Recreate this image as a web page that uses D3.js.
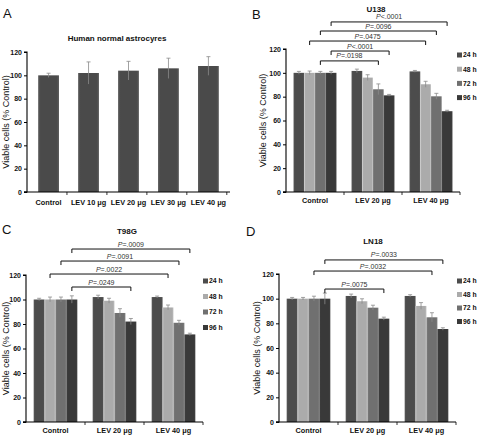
<!DOCTYPE html>
<html><head><meta charset="utf-8">
<script src="https://cdn.jsdelivr.net/npm/d3@7"></script>
<style>body{margin:0;background:#fff} svg text{font-family:"Liberation Sans",Arial,sans-serif;fill:#111}</style>
</head><body><svg id="c" width="478" height="437"></svg>
<script>
// ---------- DATA ----------
const seriesLabels = ["24 h", "48 h", "72 h", "96 h"];
const yTicks = [0, 20, 40, 60, 80, 100, 120];
const yLabel = "Viable cells (% Control)";

const astroTitle = "Human normal astrocyres";
const astroCategories = ["Control", "LEV 10 μg", "LEV 20 μg", "LEV 30 μg", "LEV 40 μg"];
const astroValues = [100, 102, 104, 106, 108];
const astroErrors = [1.8, 9.5, 8, 8.7, 8];

const groupCategories = ["Control", "LEV 20 μg", "LEV 40 μg"];

// values[series][group]
const u138Values = [[100, 101.6, 101.2], [100, 96, 90.4], [100, 86.2, 80.3], [100, 81.1, 67.8]];
const u138Errors = [[1.2, 1.5, 0.8], [1.5, 2.4, 2.5], [1.2, 4.5, 2.5], [1.2, 0.8, 0.8]];
// [label, fromGroup, fromSeries, toGroup, toSeries, y value]
const u138Brackets = [
  ["<.0001", 0, 3, 2, 3, 142.7],
  ["=.0096", 0, 2, 2, 2, 135.1],
  ["=.0475", 0, 1, 2, 1, 126.7],
  ["<.0001", 0, 3, 1, 3, 118.3],
  ["=.0198", 0, 2, 1, 2, 110]
];

const t98gValues = [[100, 102, 102], [100, 99, 93.5], [100, 89, 81], [100, 82, 71.5]];
const t98gErrors = [[1, 1.5, 0.8], [2, 2, 2], [2, 3.5, 2], [3, 2.5, 1]];
const t98gBrackets = [
  ["=.0009", 0, 3, 2, 3, 141.2],
  ["=.0091", 0, 2, 2, 2, 131.4],
  ["=.0022", 0, 1, 2, 1, 120.8],
  ["=.0249", 0, 3, 1, 3, 110.2]
];

const ln18Values = [[100, 102.2, 102.2], [100, 97.9, 94.1], [100, 92.7, 84.9], [100, 83.8, 75.4]];
const ln18Errors = [[1, 1.5, 1], [1, 2, 2.7], [2, 2, 3.7], [4.5, 1.2, 1]];
const ln18Brackets = [
  ["=.0033", 0, 3, 2, 3, 131.4],
  ["=.0032", 0, 2, 2, 2, 122.4],
  ["=.0075", 0, 3, 1, 3, 107.8]
];

// ---------- STYLE ----------
const seriesColors = ["#4c4c4c", "#ababab", "#707070", "#393939"];
const singleColor = "#4a4a4a";
const errColor = "#8a8a8a";

const svg = d3.select("#c");
const defs = svg.append("defs");
function gradId(col) {
  const id = "g" + col.slice(1);
  if (!defs.select("#" + id).empty()) return "url(#" + id + ")";
  const c = d3.color(col);
  const g = defs.append("linearGradient").attr("id", id).attr("x1", 0).attr("x2", 1).attr("y1", 0).attr("y2", 0);
  g.append("stop").attr("offset", "0%").attr("stop-color", c.brighter(0.5));
  g.append("stop").attr("offset", "12%").attr("stop-color", col);
  g.append("stop").attr("offset", "88%").attr("stop-color", col);
  g.append("stop").attr("offset", "100%").attr("stop-color", c.brighter(0.5));
  return "url(#" + id + ")";
}

function drawAxes(g, x, y, opts) {
  const ya = g.append("g").attr("transform", `translate(${x.range()[0]},0)`)
    .call(d3.axisLeft(y).tickValues(yTicks).tickSize(3).tickPadding(2));
  ya.select(".domain").attr("stroke", "#000").attr("stroke-width", 1.1).attr("d", `M-3,${y(0)}H0V${y(120)}H-3`);
  ya.selectAll("text").style("font-size", "7px").style("font-weight", "bold");
  const [r0, r1] = x.range();
  g.append("line").attr("x1", r0 - 3).attr("x2", r1).attr("y1", y(0)).attr("y2", y(0))
    .attr("stroke", "#000").attr("stroke-width", 1.1);
  const step = x.step();
  x.domain().forEach((d, i) => {
    const bx = r0 + step * (i + 1);
    g.append("line").attr("x1", bx).attr("x2", bx).attr("y1", y(0)).attr("y2", y(0) + 3)
      .attr("stroke", "#000").attr("stroke-width", 0.8);
  });
  g.append("g").selectAll("text").data(x.domain()).join("text")
    .attr("x", d => x(d) + x.bandwidth() / 2).attr("y", y(0) + opts.xLabelDy)
    .attr("text-anchor", "middle").style("font-size", "7.3px").style("font-weight", "bold")
    .text(d => d);
  g.append("text").attr("transform", `translate(${opts.yLabelX},${(y(0) + y(120)) / 2}) rotate(-90)`)
    .attr("text-anchor", "middle").attr("dy", "0.35em").style("font-size", "9px").text(yLabel);
}

function errorBar(g, cx, yTop, yBot) {
  g.append("line").attr("x1", cx).attr("x2", cx).attr("y1", yTop).attr("y2", yBot)
    .attr("stroke", errColor).attr("stroke-width", 0.8);
  g.append("line").attr("x1", cx - 2).attr("x2", cx + 2).attr("y1", yTop).attr("y2", yTop)
    .attr("stroke", errColor).attr("stroke-width", 0.8);
}

// ---------- Panel A ----------
(function () {
  const g = svg.append("g");
  const x = d3.scaleBand().domain(astroCategories).range([27, 230]).paddingInner(0.48).paddingOuter(0.28);
  const y = d3.scaleLinear().domain([0, 120]).range([192, 52]);
  g.append("text").attr("x", 3).attr("y", 18).style("font-size", "13px").text("A");
  g.append("text").attr("x", 117).attr("y", 41).attr("text-anchor", "middle")
    .style("font-size", "8px").style("font-weight", "bold").text(astroTitle);
  g.selectAll("rect.bar").data(astroValues).join("rect")
    .attr("x", (d, i) => x(astroCategories[i])).attr("width", x.bandwidth())
    .attr("y", d => y(d)).attr("height", d => y(0) - y(d)).attr("fill", gradId(singleColor));
  astroValues.forEach((v, i) => {
    const cx = x(astroCategories[i]) + x.bandwidth() / 2;
    errorBar(g, cx, y(v + astroErrors[i]), y(v - astroErrors[i]));
  });
  drawAxes(g, x, y, { xLabelDy: 13, yLabelX: 6 });
})();

// ---------- grouped panels ----------
function groupedPanel(cfg) {
  const g = svg.append("g");
  const x = d3.scaleBand().domain(groupCategories).range(cfg.xr).paddingInner(0.26).paddingOuter(0.13);
  const xs = d3.scaleBand().domain(d3.range(seriesLabels.length)).range([0, x.bandwidth()]);
  const y = d3.scaleLinear().domain([0, 120]).range(cfg.yr);
  g.append("text").attr("x", cfg.letter[1]).attr("y", cfg.letter[2]).style("font-size", "13px").text(cfg.letter[0]);
  g.append("text").attr("x", cfg.title[1]).attr("y", cfg.title[2]).attr("text-anchor", "middle")
    .style("font-size", "8px").style("font-weight", "bold").text(cfg.title[0]);
  cfg.values.forEach((vals, s) => {
    g.append("g").selectAll("rect").data(vals).join("rect")
      .attr("x", (d, i) => x(groupCategories[i]) + xs(s)).attr("width", xs.bandwidth())
      .attr("y", d => y(d)).attr("height", d => y(0) - y(d)).attr("fill", gradId(seriesColors[s]));
  });
  cfg.values.forEach((vals, s) => vals.forEach((v, i) => {
    const cx = x(groupCategories[i]) + xs(s) + xs.bandwidth() / 2;
    errorBar(g, cx, y(v + cfg.errors[s][i]), y(v - cfg.errors[s][i]));
  }));
  drawAxes(g, x, y, { xLabelDy: 11, yLabelX: cfg.yLabelX });
  cfg.brackets.forEach(b => {
    const [lab, g0, s0, g1, s1, yv] = b;
    const xa = x(groupCategories[g0]) + xs(s0) + xs.bandwidth() / 2;
    const xb = x(groupCategories[g1]) + xs(s1) + xs.bandwidth() / 2;
    const yy = y(yv);
    g.append("path").attr("d", `M${xa},${yy + 4}V${yy}H${xb}V${yy + 4}`)
      .attr("fill", "none").attr("stroke", "#111").attr("stroke-width", 1);
    const t = g.append("text").attr("x", (xa + xb) / 2).attr("y", yy - 2.5).attr("text-anchor", "middle")
      .style("font-size", "7px").style("fill", "#333");
    t.append("tspan").style("font-style", "italic").text("P");
    t.append("tspan").text(lab);
  });
  const lg = g.append("g");
  seriesLabels.forEach((s, i) => {
    const ly = cfg.legend[1] + i * cfg.legend[2];
    lg.append("rect").attr("x", cfg.legend[0]).attr("y", ly - 2.5).attr("width", 5).attr("height", 5)
      .attr("fill", seriesColors[i]);
    lg.append("text").attr("x", cfg.legend[0] + 6).attr("y", ly).attr("dy", "0.35em")
      .style("font-size", "6.8px").style("font-weight", "bold").text(s);
  });
}

groupedPanel({
  values: u138Values, errors: u138Errors, brackets: u138Brackets,
  xr: [286, 460], yr: [192, 49], letter: ["B", 252, 19], title: ["U138", 376, 11.5],
  yLabelX: 263, legend: [457, 55, 14.2]
});
groupedPanel({
  values: t98gValues, errors: t98gErrors, brackets: t98gBrackets,
  xr: [26, 203], yr: [422, 275], letter: ["C", 2, 234], title: ["T98G", 127, 234],
  yLabelX: 6, legend: [203, 281, 15.5]
});
groupedPanel({
  values: ln18Values, errors: ln18Errors, brackets: ln18Brackets,
  xr: [279, 456], yr: [422, 274], letter: ["D", 246, 236], title: ["LN18", 373, 244],
  yLabelX: 257, legend: [457, 281, 13.5]
});
</script></body></html>
